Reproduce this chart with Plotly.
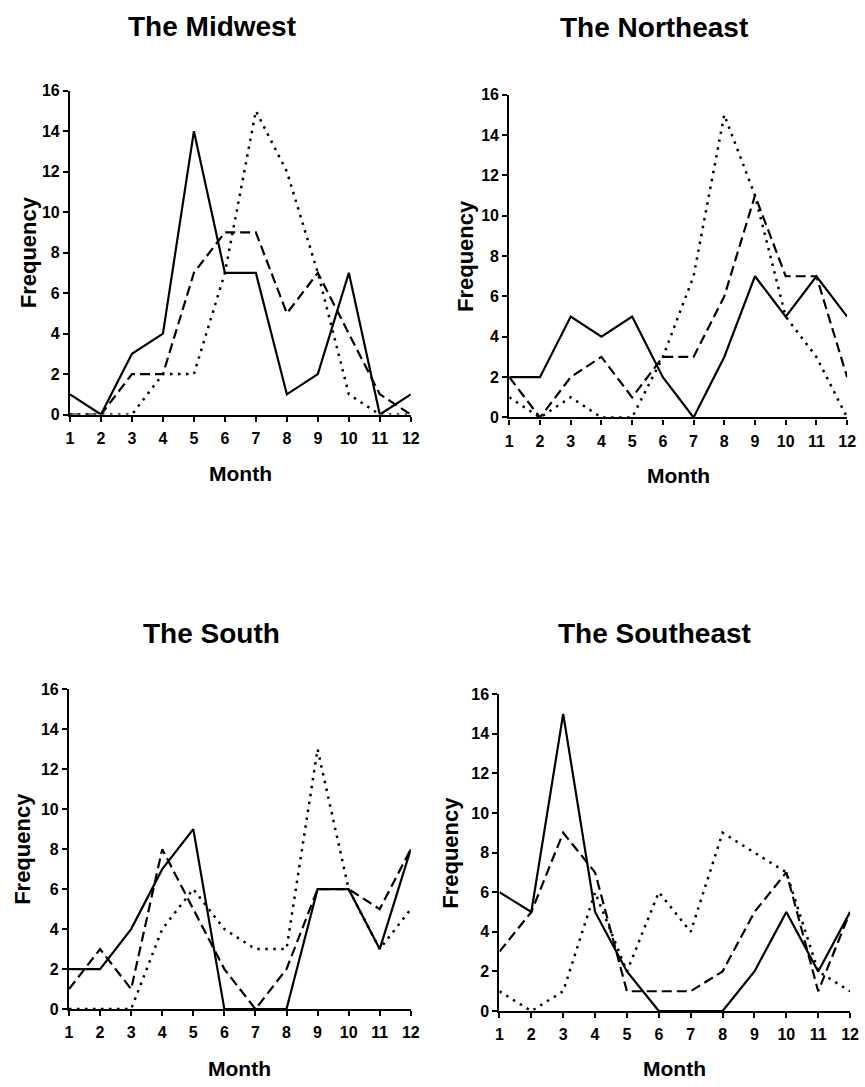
import plotly.graph_objects as go

W, H = 865, 1087

months = list(range(1, 13))
regions = ["The Midwest", "The Northeast", "The South", "The Southeast"]

midwest_solid = [1, 0, 3, 4, 14, 7, 7, 1, 2, 7, 0, 1]
midwest_dashed = [0, 0, 2, 2, 7, 9, 9, 5, 7, 4, 1, 0]
midwest_dotted = [0, 0, 0, 2, 2, 7, 15, 12, 7, 1, 0, 0]

northeast_solid = [2, 2, 5, 4, 5, 2, 0, 3, 7, 5, 7, 5]
northeast_dashed = [2, 0, 2, 3, 1, 3, 3, 6, 11, 7, 7, 2]
northeast_dotted = [1, 0, 1, 0, 0, 3, 7, 15, 11, 5, 3, 0]

south_solid = [2, 2, 4, 7, 9, 0, 0, 0, 6, 6, 3, 8]
south_dashed = [1, 3, 1, 8, 5, 2, 0, 2, 6, 6, 5, 8]
south_dotted = [0, 0, 0, 4, 6, 4, 3, 3, 13, 6, 3, 5]

southeast_solid = [6, 5, 15, 5, 2, 0, 0, 0, 2, 5, 2, 5]
southeast_dashed = [3, 5, 9, 7, 1, 1, 1, 2, 5, 7, 1, 5]
southeast_dotted = [1, 0, 1, 6, 2, 6, 4, 9, 8, 7, 2, 1]

series = [
    (midwest_solid, midwest_dashed, midwest_dotted),
    (northeast_solid, northeast_dashed, northeast_dotted),
    (south_solid, south_dashed, south_dotted),
    (southeast_solid, southeast_dashed, southeast_dotted),
]

# pixel boxes of plot areas: (x_left, x_right, y_top, y_bottom)
boxes = [
    (67, 413, 84, 413),
    (513, 856, 88, 416),
    (66, 413, 692, 1017),
    (503, 859, 697, 1019),
]
title_pos = [(211, 19), (660, 20), (211, 635), (660, 635)]
freq_x = [25, 468, 18, 453]
month_y = [473, 475, 1077, 1077]

FONT = "Arial, 'Liberation Sans', Helvetica, sans-serif"
styles = [
    dict(dash="solid", width=2.2),
    dict(dash="10px,5px", width=2.2),
    dict(dash="2.5px,5.5px", width=2.5),
]

fig = go.Figure()
annotations = []
layout_axes = {}
for i, (name, data, box) in enumerate(zip(regions, series, boxes)):
    xl, xr, yt, yb = box
    xa = "xaxis" if i == 0 else f"xaxis{i+1}"
    ya = "yaxis" if i == 0 else f"yaxis{i+1}"
    xref = "x" if i == 0 else f"x{i+1}"
    yref = "y" if i == 0 else f"y{i+1}"
    for vals, st in zip(data, styles):
        fig.add_trace(go.Scatter(
            x=months, y=vals, mode="lines", xaxis=xref, yaxis=yref,
            line=dict(color="black", **st), showlegend=False,
            hoverinfo="skip",
        ))
    layout_axes[xa] = dict(
        domain=[xl / W, xr / W], range=[1, 12], anchor=yref,
        tickmode="array", tickvals=months, ticktext=[str(m) for m in months],
        ticks="outside", ticklen=5, tickwidth=1.5, tickcolor="black",
        showline=True, linecolor="black", linewidth=2.2,
        showgrid=False, zeroline=False,
        tickfont=dict(family=FONT, size=16, color="black", weight="bold"),
        ticklabelstandoff=3,
    )
    layout_axes[ya] = dict(
        domain=[1 - yb / H, 1 - yt / H], range=[0, 16], anchor=xref,
        tickmode="linear", tick0=0, dtick=2,
        ticks="outside", ticklen=5, tickwidth=1.5, tickcolor="black",
        showline=True, linecolor="black", linewidth=2.2,
        showgrid=False, zeroline=False,
        tickfont=dict(family=FONT, size=16, color="black", weight="bold"),
    )
    tx, ty = title_pos[i]
    annotations.append(dict(
        text=f"<b>{name}</b>", x=tx / W, y=1 - ty / H, xref="paper", yref="paper",
        showarrow=False, xanchor="center", yanchor="middle",
        font=dict(family=FONT, size=28, color="black"),
    ))
    annotations.append(dict(
        text="<b>Frequency</b>", x=freq_x[i] / W, y=1 - ((yt + yb) / 2) / H,
        xref="paper", yref="paper", textangle=-90,
        showarrow=False, xanchor="center", yanchor="middle",
        font=dict(family=FONT, size=22, color="black"),
    ))
    annotations.append(dict(
        text="<b>Month</b>", x=((xl + xr) / 2) / W, y=1 - month_y[i] / H,
        xref="paper", yref="paper",
        showarrow=False, xanchor="center", yanchor="middle",
        font=dict(family=FONT, size=21, color="black"),
    ))

fig.update_layout(
    width=W, height=H, margin=dict(l=0, r=0, t=0, b=0),
    paper_bgcolor="white", plot_bgcolor="white",
    annotations=annotations, **layout_axes,
)
fig.write_html("out.html")
